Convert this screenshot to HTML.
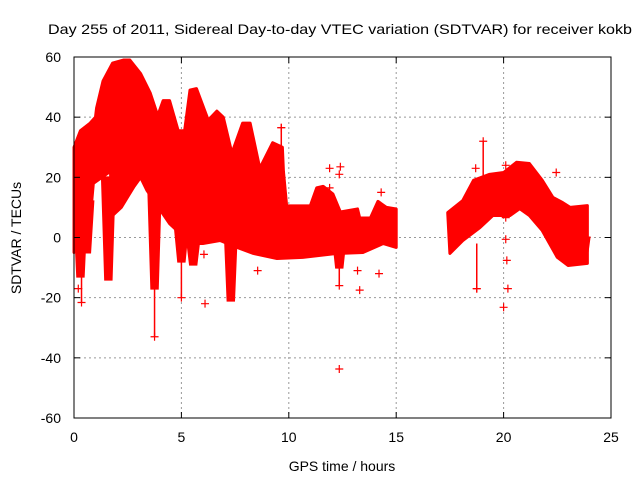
<!DOCTYPE html>
<html><head><meta charset="utf-8"><style>
body{margin:0;background:#fff}
svg{display:block;font-family:"Liberation Sans",sans-serif}
</style></head><body>
<svg id="chart" width="640" height="480" viewBox="0 0 640 480">
<text x="340" y="34" text-anchor="middle" font-size="14" textLength="584" lengthAdjust="spacingAndGlyphs">Day 255 of 2011, Sidereal Day-to-day VTEC variation (SDTVAR) for receiver kokb</text>
<g id="grid"></g>
<g id="marks"></g>
<rect x="74" y="57" width="537" height="361" fill="none" stroke="#000" stroke-width="1"/>
<g id="axes"></g>
<text x="342" y="471" text-anchor="middle" font-size="14">GPS time / hours</text>
<text transform="translate(21,238) rotate(-90)" text-anchor="middle" font-size="14">SDTVAR / TECUs</text>
</svg>
<script>
const xTicks=[0,5,10,15,20,25];
const yTicks=[-60,-40,-20,0,20,40,60];
// segment 1 (0-15 h) upper envelope
const up1T=[0,0.3,0.75,1,1.05,1.35,1.8,2.3,2.6,3.1,3.55,3.9,4.15,4.45,4.85,5.15,5.4,5.7,6.25,6.65,6.95,7.35,7.85,8.2,8.65,9.25,9.7,9.75,9.9,11,11.3,11.6,12.05,12.4,13.2,13.3,13.8,14.15,14.55,15];
const up1V=[30,35.5,38,40,43,52,58,59,59,54.5,48,40.5,45.5,45.5,35.5,35.5,49,49.5,39,42,40,28,38,38,23,31.5,30,22,10.5,10.5,16.5,17,14.5,8.5,9.5,6.5,6.5,12,10,9.5];
// segment 1 lower envelope
const lo1T=[0,0.2,0.5,0.8,0.9,1.5,1.7,1.75,2.2,2.8,3.1,3.4,4.45,4.95,5.4,6,6.8,7.6,8.35,9.45,10.65,12.25,13.45,14.4,15];
const lo1V=[-5,-3,2,10,18,21,22,7,10,17,20,15.6,4.6,1.3,-2,-2,-1,-3.3,-5.3,-7,-6.6,-5.3,-5,-2,-3.3];
// segment 2 (17.4-24 h)
const up2T=[17.4,18.1,18.6,19.35,20,20.6,21.2,21.8,22.3,22.75,23.1,23.9];
const up2V=[8.3,12.3,19,21,21.6,25,24.6,19,13.3,11.6,10,10.6];
const lo2T=[17.4,17.5,18.1,18.9,19.5,20.3,20.75,21.2,21.8,22.5,23,23.9];
const lo2V=[8,-5.3,-1,3.3,7.3,7.3,9.6,7.3,2.3,-6.6,-9.3,-8.6];
// downward fingers: centre time, top value, bottom value
const fingerT=[0.3,0.6,1.6,3.75,5.0,5.55,7.3,12.35,23.7];
const fingerTop=[10,12,20,18,3,0,5,0,0];
const fingerBot=[-13,-5,-14,-17,-8,-9,-21,-10,-8];
// vertical runs of outlier markers
const runT=[3.75,5.0,9.65,18.75,19.05,12.35,0.35];
const runTop=[-15,-5,25,-2,18,-8,-13];
const runBot=[-33,-20,36.5,-17,32,-16,-21.6];
// isolated outliers
const outT=[11.9,12.4,12.35,11.9,12.35,13.2,13.3,14.2,6.1,6.05,8.55,14.3,0.2,18.7,20.1,20.1,20.1,20.15,20.2,20.0,18.75,22.45,9.65];
const outV=[23,23.5,21,16.5,-43.7,-11,-17.5,-12,-22,-5.6,-11,15,-17,23,24,6.6,-0.6,-7.6,-17,-23.2,-17,21.6,36.5];

const X=t=>74+t*(537/25);
const Y=v=>237.5-v*(361/120);
const NS="http://www.w3.org/2000/svg";
const grid=document.getElementById('grid'),axes=document.getElementById('axes'),marks=document.getElementById('marks');
function mk(tag,attrs,parent){const e=document.createElementNS(NS,tag);for(const k in attrs)e.setAttribute(k,attrs[k]);parent.appendChild(e);return e;}
xTicks.forEach(t=>{
 if(t>0&&t<25){const g=mk('line',{x1:X(t),x2:X(t),y1:57,y2:418,stroke:'#999','stroke-dasharray':'2,3'},grid);
 
 }
 const a=mk('line',{x1:X(t),x2:X(t),y1:418,y2:412,stroke:'#000'},axes);
 
 
 const b=mk('line',{x1:X(t),x2:X(t),y1:57,y2:63,stroke:'#000'},axes);
 
 
 const l=mk('text',{x:X(t),y:442,'text-anchor':'middle','font-size':14},axes);l.textContent=t;
 
 
});
yTicks.forEach(v=>{
 if(v>-60&&v<60){const g=mk('line',{x1:74,x2:611,y1:Y(v),y2:Y(v),stroke:'#999','stroke-dasharray':'2,3'},grid);
 
 }
 const a=mk('line',{x1:74,x2:80,y1:Y(v),y2:Y(v),stroke:'#000'},axes);
 
 
 const b=mk('line',{x1:605,x2:611,y1:Y(v),y2:Y(v),stroke:'#000'},axes);
 
 
 const l=mk('text',{x:61,y:Y(v)+5,'text-anchor':'end','font-size':14},axes);l.textContent=v;
 
 
});
function band(uT,uV,lT,lV,name){
 let pts=uT.map((t,i)=>X(t)+','+Y(uV[i]));
 for(let i=lT.length-1;i>=0;i--)pts.push(X(lT[i])+','+Y(lV[i]));
 const p=mk('polygon',{points:pts.join(' '),fill:'#ff0000',stroke:'#ff0000','stroke-width':3,'stroke-linejoin':'round'},marks);
 
 
}
band(up1T,up1V,lo1T,lo1V,'arc-band-day');
band(up2T,up2V,lo2T,lo2V,'arc-band-evening');
fingerT.forEach((t,i)=>{
 const pts=[X(t-0.3)+','+Y(fingerTop[i]),X(t+0.3)+','+Y(fingerTop[i]),X(t+0.15)+','+Y(fingerBot[i]),X(t-0.15)+','+Y(fingerBot[i])];
 const p=mk('polygon',{points:pts.join(' '),fill:'#ff0000',stroke:'#ff0000','stroke-width':2},marks);
 
 
});
runT.forEach((t,i)=>{
 const l=mk('line',{x1:X(t),x2:X(t),y1:Y(runTop[i]),y2:Y(runBot[i]),stroke:'#ff0000','stroke-width':1.5},marks);
 
 
 const c=mk('path',{d:`M${X(t)-4},${Y(runBot[i])}h8M${X(t)},${Y(runBot[i])-4}v8`,stroke:'#ff0000','stroke-width':1.2},marks);
 
 
});
outT.forEach((t,i)=>{
 const c=mk('path',{d:`M${X(t)-4},${Y(outV[i])}h8M${X(t)},${Y(outV[i])-4}v8`,stroke:'#ff0000','stroke-width':1.2},marks);
 
 
});
</script>
</body></html>
